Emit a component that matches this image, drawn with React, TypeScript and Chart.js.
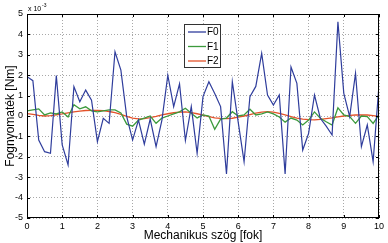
import React, { useEffect, useRef } from "react";
import { Chart, registerables } from "chart.js";
Chart.register(...registerables);

const angles = [
  0, 0.167, 0.333, 0.5, 0.667, 0.833, 1, 1.167, 1.333, 1.5, 1.667, 1.833,
  2, 2.167, 2.333, 2.5, 2.667, 2.833, 3, 3.167, 3.333, 3.5, 3.667, 3.833,
  4, 4.167, 4.333, 4.5, 4.667, 4.833, 5, 5.167, 5.333, 5.5, 5.667, 5.833,
  6, 6.167, 6.333, 6.5, 6.667, 6.833, 7, 7.167, 7.333, 7.5, 7.667, 7.833,
  8, 8.167, 8.333, 8.5, 8.667, 8.833, 9, 9.167, 9.333, 9.5, 9.667, 9.833, 10,
];

const F0 = [
  1.93, 1.73, -1.18, -1.75, -1.83, 1.98, -1.42, -2.4, 1.44, 0.7, 1.27, 0.78,
  -1.26, -0.11, -0.36, 3.15, 2.25, -0.03, -1.18, -0.2, -1.38, -0.15, -1.5, -0.2,
  2.0, 0.46, 1.57, -1.2, 0.46, -1.83, 0.95, 1.68, 1.1, 0.46, -2.84, 1.68,
  -0.3, -2.24, 0.95, 1.45, 3.07, 1.03, 0.54, 1.03, -2.84, 2.4, 1.6, -1.67,
  -0.85, 1.03, -0.11, -0.5, -0.93, 4.62, 1.11, -0.03, 2.09, -1.5, -0.44, -2.24, 1.52,
];

const F1 = [
  0.25, 0.3, 0.35, 0.05, 0.15, 0.1, 0.2, -0.05, 0.55, 0.35, 0.45, 0.25,
  0.2, 0.25, 0.3, 0.3, 0.15, -0.4, -0.5, -0.2, -0.1, 0.0, -0.36, -0.1,
  0.0, 0.1, 0.2, 0.38, 0.13, -0.1, 0.05, 0.0, -0.65, -0.15, -0.1, 0.21,
  0.0, 0.05, 0.33, 0.05, 0.1, 0.2, 0.1, -0.05, -0.3, -0.1, -0.2, -0.44,
  -0.2, 0.2, -0.11, -0.28, -0.44, 0.4, 0.05, -0.03, -0.36, 0.0, -0.03, -0.36, 0.05,
];

const F2 = [
  0.12, 0.08, 0.03, 0.0, 0.02, 0.06, 0.1, 0.15, 0.2, 0.24, 0.27, 0.28,
  0.28, 0.26, 0.22, 0.16, 0.08, -0.02, -0.1, -0.14, -0.13, -0.08, -0.02, 0.05,
  0.11, 0.16, 0.19, 0.2, 0.17, 0.11, 0.04, -0.03, -0.09, -0.12, -0.13, -0.11,
  -0.06, 0.0, 0.07, 0.14, 0.19, 0.21, 0.19, 0.13, 0.05, -0.03, -0.1, -0.15,
  -0.18, -0.19, -0.17, -0.13, -0.09, -0.04, 0.0, 0.03, 0.05, 0.06, 0.05, 0.02, -0.02,
];

const seriesNames = ["F0", "F1", "F2"];
const seriesColors = ["#2f3d9c", "#3c9a3c", "#e4522a"];
const xTitle = "Mechanikus szög [fok]";
const yTitle = "Fognyomaték [Nm]";
const FONT = "'Liberation Sans', Arial, sans-serif";

const decorPlugin = {
  id: "decor",
  afterDraw(chart: any) {
    const { ctx, chartArea } = chart;
    const { left, right, top, bottom } = chartArea;
    const xs = chart.scales.x;
    const ys = chart.scales.y;
    ctx.save();
    // box
    ctx.strokeStyle = "#000";
    ctx.lineWidth = 1;
    ctx.strokeRect(Math.round(left) + 0.5, Math.round(top) + 0.5, Math.round(right - left) - 1, Math.round(bottom - top) - 1);
    // inner tick marks
    ctx.beginPath();
    for (let v = 0; v <= 10; v++) {
      const px = Math.round(xs.getPixelForValue(v)) + 0.5;
      ctx.moveTo(px, bottom); ctx.lineTo(px, bottom - 3);
      ctx.moveTo(px, top); ctx.lineTo(px, top + 3);
    }
    for (let v = -5; v <= 5; v++) {
      const py = Math.round(ys.getPixelForValue(v)) + 0.5;
      ctx.moveTo(left, py); ctx.lineTo(left + 3, py);
      ctx.moveTo(right, py); ctx.lineTo(right - 3, py);
    }
    ctx.stroke();
    // exponent
    ctx.fillStyle = "#000";
    ctx.textBaseline = "alphabetic";
    ctx.textAlign = "left";
    ctx.font = `7px ${FONT}`;
    ctx.fillText("x 10", left + 1, top - 3);
    ctx.font = `5px ${FONT}`;
    ctx.fillText("-3", left + 15, top - 7);
    // x title
    ctx.font = `12px ${FONT}`;
    ctx.textAlign = "center";
    ctx.fillText(xTitle, (left + right) / 2, 239);
    // y title
    ctx.save();
    ctx.translate(14, (top + bottom) / 2);
    ctx.rotate(-Math.PI / 2);
    ctx.textBaseline = "alphabetic";
    ctx.fillText(yTitle, 0, 0);
    ctx.restore();
    // legend
    const lx = 184, ly = 24, lw = 36, lh = 43;
    ctx.fillStyle = "#fff";
    ctx.fillRect(lx, ly, lw, lh);
    ctx.strokeStyle = "#333";
    ctx.strokeRect(lx + 0.5, ly + 0.5, lw, lh);
    ctx.font = `10px ${FONT}`;
    ctx.textAlign = "left";
    ctx.textBaseline = "middle";
    chart.data.datasets.forEach((ds: any, i: number) => {
      const y = ly + 8 + i * 14.5;
      ctx.strokeStyle = ds.borderColor;
      ctx.lineWidth = 1.3;
      ctx.beginPath();
      ctx.moveTo(lx + 4, y);
      ctx.lineTo(lx + 22, y);
      ctx.stroke();
      ctx.fillStyle = "#000";
      ctx.fillText(ds.label, lx + 23, y + 0.5);
    });
    ctx.restore();
  },
};

export default function App() {
  const ref = useRef<HTMLCanvasElement | null>(null);
  useEffect(() => {
    document.body.style.margin = "0";
    const series = [F0, F1, F2];
    const chart = new Chart(ref.current as HTMLCanvasElement, {
      type: "line",
      data: {
        datasets: series.map((s, i) => ({
          label: seriesNames[i],
          data: angles.map((x, j) => ({ x, y: s[j] })),
          borderColor: seriesColors[i],
          backgroundColor: seriesColors[i],
          borderWidth: i === 0 ? 1.2 : 1.3,
          pointRadius: 0,
          tension: 0,
          fill: false,
        })),
      },
      options: {
        animation: false,
        responsive: false,
        devicePixelRatio: 1,
        layout: { padding: { top: 14, right: 9, left: 0, bottom: 0 } },
        plugins: { legend: { display: false }, tooltip: { enabled: false } },
        scales: {
          x: {
            type: "linear",
            min: 0,
            max: 10,
            ticks: { stepSize: 1, color: "#000", font: { size: 9, family: FONT }, padding: 3, maxRotation: 0 },
            grid: { color: "#a8a8a8", drawTicks: false },
            border: { display: false, dash: [1, 2] },
            afterFit: (s: any) => { s.height = 25; },
          },
          y: {
            min: -5,
            max: 5,
            ticks: { stepSize: 1, color: "#000", font: { size: 9, family: FONT }, padding: 4 },
            grid: { color: "#a8a8a8", drawTicks: false },
            border: { display: false, dash: [1, 2] },
            afterFit: (s: any) => { s.width = 27; },
          },
        },
      },
      plugins: [decorPlugin],
    } as any);
    return () => chart.destroy();
  }, []);
  return (
    <div style={{ position: "fixed", left: 0, top: 0, width: 388, height: 243, background: "#fff" }}>
      <canvas ref={ref} width={388} height={243} style={{ display: "block" }} />
    </div>
  );
}
